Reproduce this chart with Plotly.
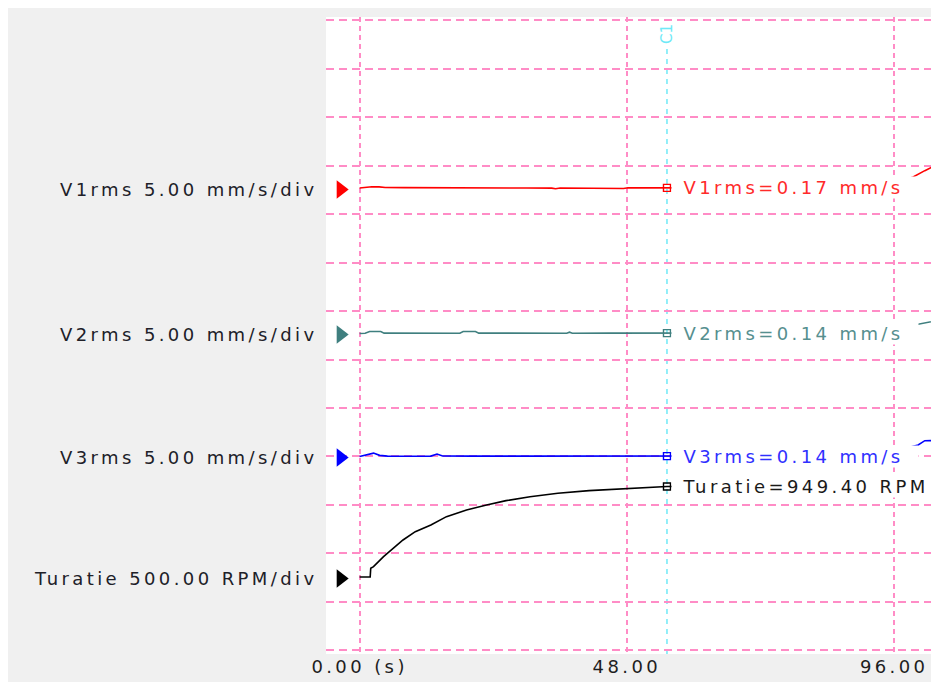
import plotly.graph_objects as go

# ---------------- data ----------------
CURSOR_T = 55.2  # cursor C1 position, seconds

V1_T = [0, 1.0, 2.2, 3.5, 4.6, 8, 12, 16, 20, 22.4, 23.2, 24.0, 25, 30, 34.5, 35.2, 36,
        40.8, 41.6, 42.4, 46.6, 47.4, 48.2, 51.0, 51.8, 52.6, 55.2,
        60, 70, 80, 90, 94, 97, 99.4, 101.5, 103.3, 104.5]
V1_V = [0.15, 0.22, 0.28, 0.27, 0.20, 0.19, 0.18, 0.18, 0.17, 0.16, 0.09, 0.16, 0.15, 0.15, 0.14, 0.08, 0.15,
        0.15, 0.09, 0.16, 0.16, 0.10, 0.17, 0.17, 0.11, 0.17, 0.17,
        0.17, 0.18, 0.18, 0.20, 0.40, 0.80, 1.29, 1.94, 2.43, 2.62]

V2_T = [0, 1.0, 1.8, 2.4, 3.8, 4.4, 10, 18.0, 18.6, 19.5, 20.8, 21.4, 28, 37.2, 37.7, 38.2, 45, 55.2,
        60, 70, 80, 90, 94, 97, 100.8, 102.5, 104.5]
V2_V = [0.10, 0.12, 0.30, 0.32, 0.30, 0.14, 0.14, 0.13, 0.30, 0.32, 0.30, 0.14, 0.13, 0.13, 0.24, 0.13, 0.14, 0.14,
        0.14, 0.14, 0.15, 0.17, 0.35, 0.70, 1.16, 1.35, 1.52]

V3_T = [0, 1.4, 2.5, 3.6, 5, 10, 12.8, 13.9, 14.9, 20, 30, 40, 50, 55.2,
        60, 70, 80, 90, 94, 97, 100.3, 101.5, 104.5]
V3_V = [0.10, 0.30, 0.45, 0.22, 0.14, 0.12, 0.14, 0.36, 0.15, 0.14, 0.14, 0.14, 0.14, 0.14,
        0.14, 0.14, 0.14, 0.16, 0.35, 0.80, 1.29, 1.73, 1.74]

TUR_T = [0, 1.9, 2.0, 2.5, 4.3, 5.7, 7.8, 10.0, 12.8, 15.6, 19.2, 22.8, 26.3, 30.6, 35.6, 41.2, 47.0, 55.2,
         60, 70, 80, 90, 100, 104.5]
TUR_V = [15, 15, 105, 122, 225, 294, 397, 483, 552, 638, 707, 758, 803, 844, 879, 906, 923, 949.4,
         950, 951, 951, 952, 952, 952]

CH_NAMES = ["V1rms", "V2rms", "V3rms", "Turatie"]
CH_UNITS = ["mm/s", "mm/s", "mm/s", "RPM"]
CH_SCALES = [5.0, 5.0, 5.0, 500.0]          # units per division
X_TICKS = [0, 48, 96]
X_TICK_UNIT = " (s)"

# ---------------- styling / layout ----------------
FONT = "DejaVu Sans"
FS = 18
LS = 3.4   # letter spacing (px) to mimic the wide instrument font
GRID_COL = "#ff8cc6"
CURSOR_COL = "#6fe9f7"
CH_COLORS = ["#ff0000", "#3f7f7f", "#0000ff", "#000000"]
LBL_COLORS = ["#ff2a2a", "#568f8f", "#3030ff", "#1a1a1a"]
CH_AXES = ["y2", "y3", "y4", "y"]
ZERO_DIV = [9.509, 6.517, 3.979, 1.482]      # channel zero position in grid divisions
D_MIN, D_MAX = -0.0764, 13.068               # visible span in divisions
X_RANGE = [-6.034, 104.05]
ZERO_MARK_T = -3.4

# the page adds an 8 px white margin round the figure
W, H = 931, 674
ML, MR, MT, MB = 318, 0, 9, 28
PLOT_H = H - MT - MB


def yrange(d0, s):
    return [(D_MIN - d0) * s, (D_MAX - d0) * s]


def wide(s):
    return f'<span style="letter-spacing:{LS}px">{s}</span>'


series_t = [V1_T, V2_T, V3_T, TUR_T]
series_v = [V1_V, V2_V, V3_V, TUR_V]

fig = go.Figure()
annotations = []

for i in range(4):
    t, v, col, ax = series_t[i], series_v[i], CH_COLORS[i], CH_AXES[i]
    fig.add_trace(go.Scatter(x=t, y=v, mode="lines", yaxis=ax,
                             line=dict(color=col, width=1.6),
                             showlegend=False, hoverinfo="skip"))
    # zero-level triangle marker
    fig.add_trace(go.Scatter(x=[ZERO_MARK_T], y=[0], mode="markers", yaxis=ax,
                             marker=dict(symbol="triangle-right", size=16, color=col),
                             cliponaxis=False, showlegend=False, hoverinfo="skip"))
    # value at cursor
    cv = v[t.index(CURSOR_T)]
    fig.add_trace(go.Scatter(x=[CURSOR_T], y=[cv], mode="markers", yaxis=ax,
                             marker=dict(symbol="square-open", size=7, color=col,
                                         line=dict(width=1.4)),
                             showlegend=False, hoverinfo="skip"))
    annotations.append(dict(
        xref="paper", x=0, xanchor="right", xshift=-6,
        yref=ax, y=0, yanchor="middle",
        text=wide(f"{CH_NAMES[i]} {CH_SCALES[i]:.2f} {CH_UNITS[i]}/div"),
        showarrow=False, font=dict(family=FONT, size=FS, color="#202028")))
    annotations.append(dict(
        xref="x", x=CURSOR_T, xanchor="left", xshift=4,
        yref=ax, y=cv, yanchor="middle",
        text="\u00a0\u00a0" + wide(f"{CH_NAMES[i]}={cv:.2f} {CH_UNITS[i]}"),
        showarrow=False, bgcolor="white", borderpad=0,
        width=(246 if i < 3 else 300), height=21, align="left",
        font=dict(family=FONT, size=FS, color=LBL_COLORS[i])))

annotations.append(dict(
    xref="x", x=CURSOR_T, yref="paper", y=(H - MB - 26) / PLOT_H, yanchor="middle",
    text="C1", textangle=-90, showarrow=False,
    font=dict(family=FONT, size=15, color=CURSOR_COL)))

shapes = [
    dict(type="line", xref="x", x0=CURSOR_T, x1=CURSOR_T, yref="paper",
         y0=0, y1=(H - MB - 39) / PLOT_H, layer="between",
         line=dict(color=CURSOR_COL, width=1.5, dash="5px,5px")),
]

ax_common = dict(showticklabels=False, zeroline=False, ticks="", showline=False)
tur_d0, tur_s = ZERO_DIV[3], CH_SCALES[3]

fig.update_layout(
    width=W, height=H,
    margin=dict(l=ML, r=MR, t=MT, b=MB, pad=0),
    paper_bgcolor="#f0f0f0", plot_bgcolor="white",
    showlegend=False,
    xaxis=dict(range=X_RANGE, tickvals=X_TICKS,
               ticktext=[wide(f"{v:.2f}" + (X_TICK_UNIT if v == 0 else "")) for v in X_TICKS],
               showgrid=True, gridcolor=GRID_COL, gridwidth=1.5, griddash="5px,4px",
               zeroline=False, ticks="", showline=False,
               tickfont=dict(family=FONT, size=FS, color="#1e1e1e")),
    yaxis=dict(range=yrange(tur_d0, tur_s), tick0=-tur_d0 * tur_s, dtick=tur_s,
               showgrid=True, gridcolor=GRID_COL, gridwidth=1.5, griddash="8px,5px",
               **ax_common),
    yaxis2=dict(range=yrange(ZERO_DIV[0], CH_SCALES[0]), overlaying="y", showgrid=False, **ax_common),
    yaxis3=dict(range=yrange(ZERO_DIV[1], CH_SCALES[1]), overlaying="y", showgrid=False, **ax_common),
    yaxis4=dict(range=yrange(ZERO_DIV[2], CH_SCALES[2]), overlaying="y", showgrid=False, **ax_common),
    annotations=annotations,
    shapes=shapes,
)

fig.write_html("out.html")
